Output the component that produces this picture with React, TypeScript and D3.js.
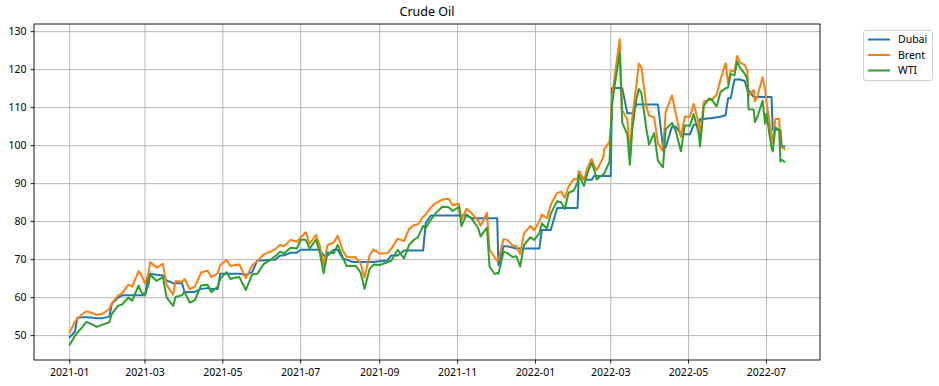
import React from "react";
import * as d3 from "d3";

const dates = [
  "2021-01-01","2021-01-05","2021-01-07","2021-01-11","2021-01-14","2021-01-19","2021-01-22","2021-01-27",
  "2021-02-01","2021-02-03","2021-02-08","2021-02-11","2021-02-16","2021-02-19","2021-02-24","2021-02-26",
  "2021-03-01","2021-03-04","2021-03-05","2021-03-10","2021-03-15","2021-03-18","2021-03-23","2021-03-25","2021-03-30",
  "2021-04-01","2021-04-05","2021-04-09","2021-04-14","2021-04-19","2021-04-22","2021-04-27","2021-04-29",
  "2021-05-04","2021-05-07","2021-05-11","2021-05-14","2021-05-19","2021-05-24","2021-05-28",
  "2021-06-02","2021-06-08","2021-06-11","2021-06-15","2021-06-18","2021-06-23","2021-06-28",
  "2021-07-01","2021-07-05","2021-07-08","2021-07-13","2021-07-16","2021-07-19","2021-07-22","2021-07-27","2021-07-30",
  "2021-08-03","2021-08-06","2021-08-10","2021-08-13","2021-08-17","2021-08-20","2021-08-24","2021-08-27",
  "2021-09-01","2021-09-07","2021-09-10","2021-09-15","2021-09-20","2021-09-24","2021-09-28",
  "2021-10-01","2021-10-05","2021-10-07","2021-10-11","2021-10-15","2021-10-20","2021-10-25","2021-10-28",
  "2021-11-02","2021-11-04","2021-11-08","2021-11-12","2021-11-17","2021-11-19","2021-11-24","2021-11-26","2021-11-30",
  "2021-12-02","2021-12-03","2021-12-07","2021-12-10","2021-12-14","2021-12-17","2021-12-20","2021-12-23","2021-12-28","2021-12-31",
  "2022-01-04","2022-01-06","2022-01-10","2022-01-13","2022-01-18","2022-01-21","2022-01-24","2022-01-27","2022-01-31",
  "2022-02-03","2022-02-04","2022-02-08","2022-02-11","2022-02-14","2022-02-16","2022-02-18","2022-02-23","2022-02-24","2022-02-28",
  "2022-03-01","2022-03-02","2022-03-04","2022-03-08","2022-03-10","2022-03-14","2022-03-16","2022-03-18","2022-03-21","2022-03-23","2022-03-25","2022-03-29","2022-03-31",
  "2022-04-04","2022-04-07","2022-04-11","2022-04-13","2022-04-18","2022-04-21","2022-04-25","2022-04-28",
  "2022-05-02","2022-05-05","2022-05-09","2022-05-10","2022-05-13","2022-05-17","2022-05-19","2022-05-23","2022-05-26","2022-05-30",
  "2022-06-01","2022-06-03","2022-06-06","2022-06-08","2022-06-10","2022-06-14","2022-06-16","2022-06-17","2022-06-21","2022-06-22","2022-06-24","2022-06-28","2022-06-30",
  "2022-07-01","2022-07-05","2022-07-06","2022-07-08","2022-07-11","2022-07-12","2022-07-13","2022-07-15"
];

const dubai = [
  49.6,51.0,54.7,54.8,54.8,54.7,54.6,54.6,
  55.0,58.4,60.0,60.6,60.6,60.6,60.6,60.6,
  60.6,66.3,66.3,66.0,65.8,64.5,63.8,63.8,63.8,
  61.5,61.5,61.5,62.3,62.5,62.3,62.3,66.3,
  66.3,66.3,66.3,66.3,66.0,66.7,69.8,
  69.8,70.0,70.0,71.1,71.1,71.8,71.8,
  72.6,72.6,72.6,72.6,72.6,71.1,71.1,72.6,72.6,
  70.3,70.0,69.4,69.4,69.4,69.4,69.4,69.4,
  69.6,69.8,71.1,71.1,72.4,72.4,72.4,
  72.4,72.4,79.6,81.6,81.6,81.6,81.6,81.6,
  81.6,81.6,81.6,80.9,80.9,80.9,80.9,80.9,80.9,
  80.9,68.5,73.5,73.5,73.2,72.9,72.9,72.9,72.9,72.9,
  72.9,77.8,77.8,77.8,83.6,83.6,83.6,83.6,83.6,
  83.6,93.2,91.0,91.0,91.0,92.0,92.0,92.0,92.0,92.0,
  92.0,115.2,115.2,115.2,115.2,108.5,108.5,108.5,110.8,110.8,110.8,110.8,110.8,
  110.8,110.8,99.5,99.5,105.0,105.0,103.0,103.0,
  103.0,105.5,105.5,107.0,107.0,107.2,107.2,107.5,107.6,108.0,
  112.5,112.5,117.4,117.4,117.4,117.0,114.7,114.7,112.8,112.8,112.8,112.8,112.8,
  112.8,112.8,104.2,104.2,104.2,104.2,99.8,99.8
];

const brent = [
  50.9,53.6,54.4,55.7,56.4,55.9,55.4,55.8,
  57.0,58.5,60.6,61.1,63.4,62.9,67.0,66.1,
  63.7,66.7,69.4,67.9,68.9,63.3,60.8,64.4,64.1,
  64.9,62.2,62.9,66.6,67.1,65.4,66.4,68.6,
  69.9,68.3,68.6,68.7,65.1,68.5,69.6,
  71.4,72.2,72.7,73.9,73.5,75.2,74.7,
  75.8,77.2,74.1,76.5,73.6,68.6,73.8,74.5,76.3,
  72.4,70.7,70.6,70.6,69.0,65.2,71.1,72.7,
  71.6,71.7,72.9,75.5,74.9,78.1,79.1,
  79.3,81.3,81.9,83.7,84.9,85.8,86.0,84.3,
  84.7,80.5,83.4,82.2,80.3,78.9,82.3,72.7,70.6,
  69.7,69.9,75.4,75.2,73.7,73.5,71.5,76.9,78.9,77.8,
  80.0,81.9,80.9,84.5,87.5,87.9,86.3,89.3,91.2,
  91.1,93.3,91.0,94.4,96.5,94.8,93.5,96.8,99.1,101.0,
  105.0,113.0,118.1,128.0,109.3,106.9,98.0,107.9,115.6,121.6,120.7,110.2,107.9,
  107.5,100.6,98.5,108.8,113.2,108.3,102.3,107.6,
  107.6,111.0,105.9,102.5,111.6,112.0,112.0,113.4,117.4,121.7,
  116.3,119.7,119.5,123.6,122.0,121.2,119.8,113.1,114.7,111.7,113.1,118.0,114.8,
  111.6,102.8,100.7,107.0,107.1,99.5,99.6,99.1
];

const wti = [
  47.6,49.9,50.8,52.3,53.6,52.9,52.3,52.9,
  53.5,55.7,57.9,58.2,60.0,59.2,63.2,61.5,
  60.6,63.8,66.1,64.4,65.4,60.0,57.8,60.2,60.6,
  61.5,58.7,59.3,63.2,63.4,61.4,62.9,65.0,
  66.7,64.9,65.3,65.4,62.0,66.1,66.3,
  68.8,70.1,70.9,72.1,71.6,73.1,72.9,
  75.2,75.2,72.9,75.3,71.8,66.4,71.9,71.7,73.9,
  70.6,68.3,68.3,68.4,66.6,62.3,67.5,68.7,
  68.6,69.3,69.7,72.6,70.3,73.9,75.3,
  75.9,78.9,78.3,80.5,82.3,83.9,83.8,82.8,
  83.9,78.8,81.9,80.8,78.4,76.1,78.4,68.2,66.2,
  66.5,66.3,72.1,71.7,70.7,70.9,68.2,73.8,75.9,75.2,
  76.9,79.5,78.2,82.1,85.4,85.1,83.3,87.6,88.2,
  90.3,92.3,89.4,93.1,95.5,93.7,91.1,92.4,92.8,95.7,
  103.4,110.6,115.7,124.5,106.0,103.0,95.0,104.7,112.1,114.9,113.9,104.2,100.3,
  103.3,96.0,94.3,104.3,106.0,103.8,98.5,105.4,
  105.2,108.3,103.1,99.8,110.5,112.4,112.2,110.3,114.1,115.1,
  115.3,118.9,118.5,122.1,120.7,118.9,117.6,109.6,109.5,106.2,107.6,111.8,105.8,
  108.4,99.5,98.5,104.8,104.1,95.8,96.3,95.8
];

const seriesNames = ["Dubai", "Brent", "WTI"];
const seriesColors = ["#1f77b4", "#ff7f0e", "#2ca02c"];
const xTickLabels = ["2021-01","2021-03","2021-05","2021-07","2021-09","2021-11","2022-01","2022-03","2022-05","2022-07"];
const yTickValues = [50, 60, 70, 80, 90, 100, 110, 120, 130];

const W = 939, H = 386;
const left = 34, right = 820, top = 24, bottom = 360;
const FONT = "'Noto Sans', 'DejaVu Sans', sans-serif";

export default function App() {
  const parse = d3.timeParse("%Y-%m-%d");
  const parseM = d3.timeParse("%Y-%m");
  const xs = dates.map((d) => parse(d) as Date);
  const t0 = +xs[0], t1 = +xs[xs.length - 1];
  const span = t1 - t0;
  const x = d3.scaleTime().domain([new Date(t0 - 0.05 * span), new Date(t1 + 0.05 * span)]).range([left, right]);
  const all = [...dubai, ...brent, ...wti];
  const mn = d3.min(all) as number, mx = d3.max(all) as number;
  const pad = (mx - mn) * 0.05;
  const y = d3.scaleLinear().domain([mn - pad, mx + pad]).range([bottom, top]);
  const series = [dubai, brent, wti];
  const line = d3.line<number>().x((_, i) => x(xs[i])).y((v) => y(v));
  const xTicks = xTickLabels.map((s) => parseM(s) as Date);

  return (
    <svg width={W} height={H} style={{ position: "absolute", left: 0, top: 0, background: "#fff" }} fontFamily={FONT}>
      <rect x={0} y={0} width={W} height={H} fill="#fff" />
      <text x={(left + right) / 2} y={16} textAnchor="middle" fontSize={12.5} fill="#000">Crude Oil</text>
      <defs>
        <clipPath id="plotclip"><rect x={left} y={top} width={right - left} height={bottom - top} /></clipPath>
      </defs>
      {xTicks.map((d, i) => (
        <line key={"gx" + i} x1={x(d)} x2={x(d)} y1={top} y2={bottom} stroke="#b0b0b0" strokeWidth={0.9} />
      ))}
      {yTickValues.map((v) => (
        <line key={"gy" + v} x1={left} x2={right} y1={y(v)} y2={y(v)} stroke="#b0b0b0" strokeWidth={0.9} />
      ))}
      <g clipPath="url(#plotclip)">
        {series.map((s, i) => (
          <path key={seriesNames[i]} d={line(s) || ""} fill="none" stroke={seriesColors[i]} strokeWidth={2} strokeLinejoin="round" strokeLinecap="square" />
        ))}
      </g>
      <rect x={left} y={top} width={right - left} height={bottom - top} fill="none" stroke="#000" strokeWidth={0.9} />
      {xTicks.map((d, i) => (
        <g key={"xt" + i}>
          <line x1={x(d)} x2={x(d)} y1={bottom} y2={bottom + 3.5} stroke="#000" strokeWidth={0.9} />
          <text x={x(d)} y={bottom + 16} textAnchor="middle" fontSize={10.5} fill="#000">{xTickLabels[i]}</text>
        </g>
      ))}
      {yTickValues.map((v) => (
        <g key={"yt" + v}>
          <line x1={left - 3.5} x2={left} y1={y(v)} y2={y(v)} stroke="#000" strokeWidth={0.9} />
          <text x={left - 7.5} y={y(v) + 3.8} textAnchor="end" fontSize={10.5} fill="#000">{v}</text>
        </g>
      ))}
      <g>
        <rect x={863.5} y={30.5} width={69} height={50} rx={2.5} fill="#fff" fillOpacity={0.8} stroke="#cccccc" strokeWidth={0.9} />
        {seriesNames.map((n, i) => (
          <g key={"lg" + n}>
            <line x1={868} x2={890} y1={39.5 + i * 15.5} y2={39.5 + i * 15.5} stroke={seriesColors[i]} strokeWidth={2} />
            <text x={898} y={43.3 + i * 15.5} fontSize={10.5} fill="#000">{n}</text>
          </g>
        ))}
      </g>
    </svg>
  );
}
